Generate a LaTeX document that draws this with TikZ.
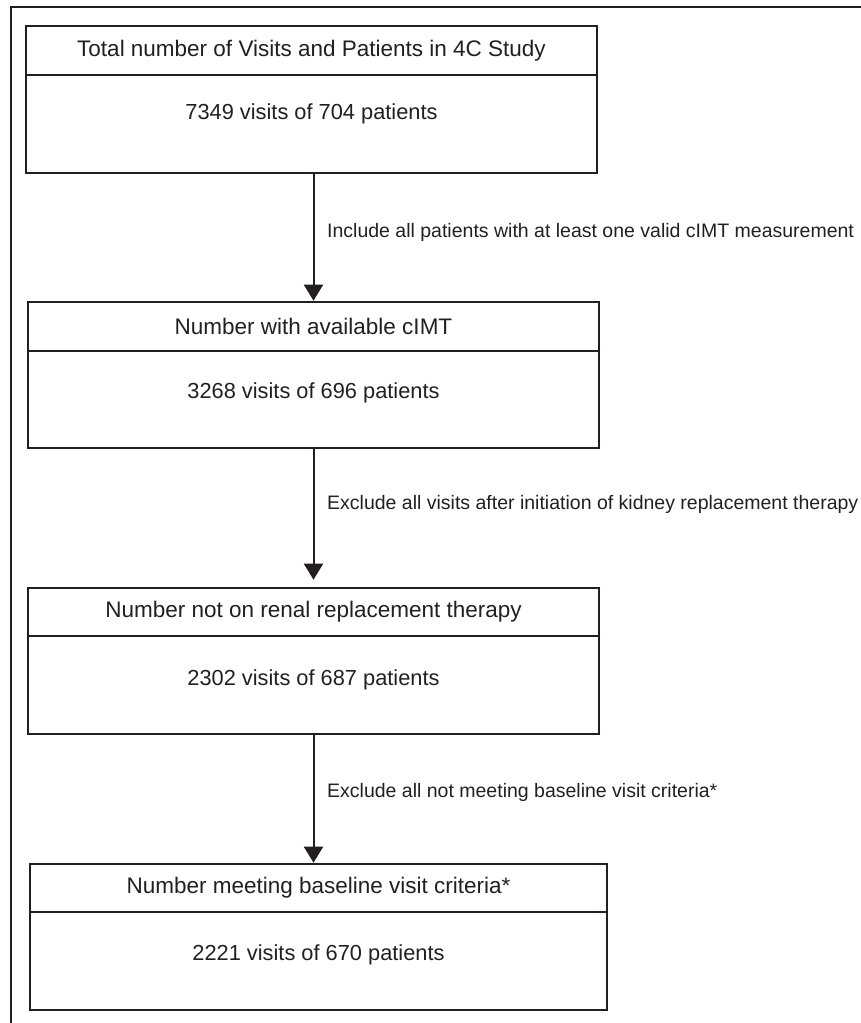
\documentclass[tikz,border=0pt]{standalone}
\usepackage{fontspec}
\setmainfont{Liberation Sans}
\usetikzlibrary{arrows.meta,calc}
\definecolor{ink}{HTML}{231F20}
\begin{document}
\begin{tikzpicture}[x=1pt,y=-1pt,
  frame/.style={draw=ink, line width=2pt},
  titlebox/.style={draw=ink, line width=2.6pt, inner sep=0pt, text=ink,
    font=\fontsize{22.5}{27}\selectfont},
  bodybox/.style={draw=ink, line width=2.2pt, inner sep=0pt},
  bodytext/.style={text=ink, inner sep=0pt, font=\fontsize{21.8}{26}\selectfont},
  steplabel/.style={anchor=west, text=ink, inner sep=0pt, font=\fontsize{19.5}{23}\selectfont},
  arr/.style={draw=ink, line width=2pt, -{Triangle[length=16pt,width=19pt]}}]
\useasboundingbox (0,0) rectangle (861,1023);
\clip (0,0) rectangle (861,1023);
\draw[frame] (11,7) rectangle (900,1060);
% box 1
\node[bodybox, minimum width=571pt, minimum height=98pt] (b1) at (311.5,124) {};
\node[titlebox, minimum width=571pt, minimum height=49pt] (t1) at (311.5,50.5) {Total number of Visits and Patients in 4C Study};
\node[bodytext] (n1) at (311.5,114) {7349 visits of 704 patients};
% box 2
\node[bodybox, minimum width=571pt, minimum height=97pt] (b2) at (313.5,399.5) {};
\node[titlebox, minimum width=571pt, minimum height=49pt] (t2) at (313.5,326.5) {Number with available cIMT};
\node[bodytext] (n2) at (313.5,393) {3268 visits of 696 patients};
% box 3
\node[bodybox, minimum width=571pt, minimum height=98pt] (b3) at (313.5,685) {};
\node[titlebox, minimum width=571pt, minimum height=48pt] (t3) at (313.5,612) {Number not on renal replacement therapy};
\node[bodytext] (n3) at (313.5,680) {2302 visits of 687 patients};
% box 4
\node[bodybox, minimum width=577pt, minimum height=98pt] (b4) at (318.5,961) {};
\node[titlebox, minimum width=577pt, minimum height=48pt] (t4) at (318.5,888) {Number meeting baseline visit criteria*};
\node[bodytext] (n4) at (318.5,955) {2221 visits of 670 patients};
% arrows
\draw[arr] (b1.south -| t2.north) -- (t2.north);
\draw[arr, shorten >=7pt] (b2.south) -- (t3.north);
\draw[arr] (b3.south) -- (b3.south |- t4.north);
% labels
\node[steplabel] (l1) at (327,232) {Include all patients with at least one valid cIMT measurement};
\node[steplabel] (l2) at (327,504) {Exclude all visits after initiation of kidney replacement therapy};
\node[steplabel] (l3) at (327,792) {Exclude all not meeting baseline visit criteria*};
\end{tikzpicture}
\end{document}
